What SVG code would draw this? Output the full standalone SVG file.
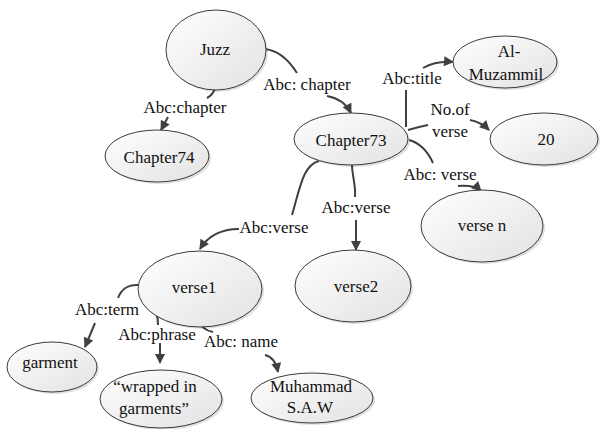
<svg xmlns="http://www.w3.org/2000/svg" width="600" height="429" viewBox="0 0 600 429" font-family="'Liberation Serif', Tinos, 'Times New Roman', 'DejaVu Serif', serif">
<style>
.node ellipse.n{fill:url(#g);stroke:#3a3a3a;stroke-width:1}
.node ellipse.s{fill:#000;opacity:0.12}
text{font-family:'Liberation Serif', Tinos, 'Times New Roman', 'DejaVu Serif', serif;font-size:17px;fill:#111;text-anchor:middle}
.e path{fill:none;stroke:#404040;stroke-width:2}
.e path.a{marker-end:url(#arr)}
</style>
<defs>
<linearGradient id="g" x1="0" y1="0" x2="1" y2="1">
<stop offset="0" stop-color="#ffffff"/>
<stop offset="1" stop-color="#e2e2e2"/>
</linearGradient>
<marker id="arr" viewBox="0 0 10 10" refX="9" refY="5" markerWidth="5.5" markerHeight="5" markerUnits="strokeWidth" orient="auto">
<path d="M0,0 L10,5 L0,10 Z" fill="#404040"/>
</marker>
</defs>

<g class="e" id="connectors">
<path d="M215,88 Q213,95 207,98"/>
<path class="a" d="M168,117 L161,130"/>
<path d="M264,49 C280,50 290,62 297,73"/>
<path class="a" d="M327,96 C338,98 346,103 351,113"/>
<path d="M406,127 L406,90"/>
<path class="a" d="M423,68 C432,63 442,61 453,62"/>
<path d="M408,130 Q418,127 428,125"/>
<path class="a" d="M470,120 Q481,122 489,130"/>
<path d="M409,140 C420,143 428,152 433,163"/>
<path class="a" d="M458,186 Q475,185 481,191"/>
<path d="M352,165 C352,175 356,185 355,197"/>
<path class="a" d="M356,220 L356,250"/>
<path d="M319,161 C303,165 300,188 292,215"/>
<path class="a" d="M239,229 C222,229 208,236 200,249"/>
<path d="M139,285 C128,284 121,290 118,298"/>
<path class="a" d="M95,323 Q90,335 85,347"/>
<path d="M152,306 Q158,312 158,325"/>
<path class="a" d="M160,343 L160,363"/>
<path d="M198,320 Q202,330 213,332"/>
<path class="a" d="M265,355 Q275,357 278,372"/>
<text x="185" y="113">Abc:chapter</text>
<text x="307" y="90">Abc: chapter</text>
<text x="412" y="84">Abc:title</text>
<text x="450" y="115">No.of</text>
<text x="450" y="137">verse</text>
<text x="440" y="180">Abc: verse</text>
<text x="356" y="213">Abc:verse</text>
<text x="274" y="233">Abc:verse</text>
<text x="107" y="315">Abc:term</text>
<text x="157" y="340">Abc:phrase</text>
<text x="241" y="347">Abc: name</text>
</g>

<g class="node" id="juzz"><ellipse class="s" cx="218" cy="52" rx="50" ry="40"/><ellipse class="n" cx="216" cy="50" rx="50" ry="40"/><text x="215" y="55">Juzz</text></g>
<g class="node" id="chapter74"><ellipse class="s" cx="159" cy="158" rx="52" ry="26"/><ellipse class="n" cx="157" cy="156" rx="52" ry="26"/><text x="159" y="163">Chapter74</text></g>
<g class="node" id="chapter73"><ellipse class="s" cx="353" cy="141" rx="57" ry="26"/><ellipse class="n" cx="351" cy="139" rx="57" ry="26"/><text x="351" y="146">Chapter73</text></g>
<g class="node" id="almuzammil"><ellipse class="s" cx="507" cy="64" rx="52" ry="26"/><ellipse class="n" cx="505" cy="62" rx="52" ry="26"/><text x="509" y="57">Al-</text><text x="506" y="80">Muzammil</text></g>
<g class="node" id="n20"><ellipse class="s" cx="546" cy="141" rx="54" ry="26"/><ellipse class="n" cx="544" cy="139" rx="54" ry="26"/><text x="546" y="145">20</text></g>
<g class="node" id="versen"><ellipse class="s" cx="484" cy="228" rx="61" ry="36"/><ellipse class="n" cx="482" cy="226" rx="61" ry="36"/><text x="482" y="231">verse n</text></g>
<g class="node" id="verse2"><ellipse class="s" cx="355" cy="288" rx="58" ry="36"/><ellipse class="n" cx="353" cy="286" rx="58" ry="36"/><text x="356" y="292">verse2</text></g>
<g class="node" id="verse1"><ellipse class="s" cx="202" cy="291" rx="62" ry="38"/><ellipse class="n" cx="200" cy="289" rx="62" ry="38"/><text x="194" y="293">verse1</text></g>
<g class="node" id="garment"><ellipse class="s" cx="54" cy="369" rx="45" ry="25"/><ellipse class="n" cx="52" cy="367" rx="45" ry="25"/><text x="50" y="368">garment</text></g>
<g class="node" id="wrapped"><ellipse class="s" cx="163" cy="401" rx="61" ry="29"/><ellipse class="n" cx="161" cy="399" rx="61" ry="29"/><text x="155" y="392">“wrapped in</text><text x="154" y="414">garments”</text></g>
<g class="node" id="muhammad"><ellipse class="s" cx="314" cy="400" rx="61" ry="25"/><ellipse class="n" cx="312" cy="398" rx="61" ry="25"/><text x="311" y="392">Muhammad</text><text x="310" y="413">S.A.W</text></g>
</svg>
